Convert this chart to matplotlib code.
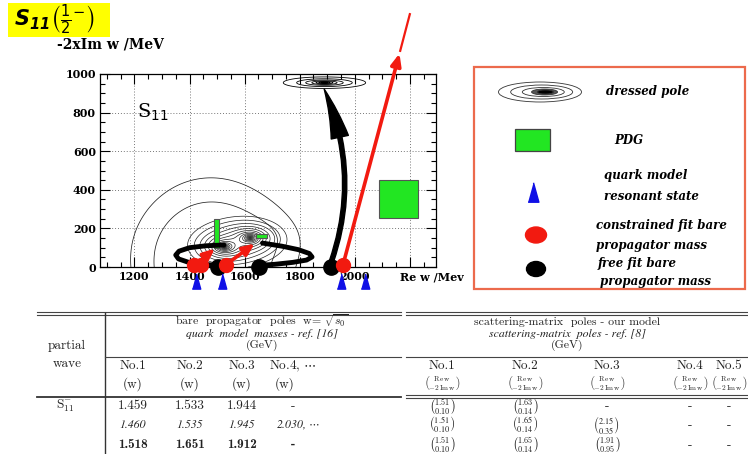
import numpy as np
import matplotlib.pyplot as plt
from matplotlib.patches import Rectangle, Ellipse, FancyArrowPatch

# ---- plot data, Re w and -2 Im w in MeV ----
# dressed poles drawn as contours
pole_re = [1527, 1620]
pole_im = [105, 150]
pole_sy = 0.8
broad_re, broad_sy, broad_mix = 1470, 1.65, 0.15   # wide low-lying background of the two poles
top_re, top_im, top_sy = 1890, 955, 0.2

quark_model = [1422, 1519, 1949, 2039]   # blue triangles
constrained = [1418, 1442, 1533, 1958]   # red dots
free_fit = [1503, 1651, 1915]            # black dots

# PDG boxes
pdg_re = [1490, 1642, 2088]
pdg_im = [97, 148, 252]
pdg_dre = [18, 40, 142]
pdg_dim = [151, 22, 201]

# red moves of constrained bare masses
red_start = [(1425, 15), (1535, 15), (1958, 15)]
red_end = [(1500, 105), (1645, 130), (2165, 1120)]
red_tail = [(2165, 1120), (2200, 1310)]

# black moves of free fit bare masses
loop_left_re = [1503, 1450, 1395, 1360, 1350, 1362, 1400, 1460, 1525]
loop_left_im = [8, 14, 25, 42, 62, 82, 100, 110, 114]
loop_right_re = [1651, 1710, 1775, 1825, 1845, 1835, 1795, 1735, 1665]
loop_right_im = [8, 14, 24, 36, 52, 70, 90, 108, 124]
big_start = (1912, 15)
big_end = (1885, 935)

# ---- table data ----
bare_constrained = [1.459, 1.533, 1.944]
bare_quark = [1.460, 1.535, 1.945, 2.030]
bare_free = [1.518, 1.651, 1.912]
our_re = [1.51, 1.63]
our_im = [0.10, 0.14]
ref_re = [1.51, 1.65, 2.15]
ref_im = [0.10, 0.14, 0.35]
free_re = [1.51, 1.65, 1.91]
free_im = [0.10, 0.14, 0.95]

RED = '#f21a10'
BLUE = '#1010e6'
GREEN = '#22e622'

fig = plt.figure(figsize=(7.48, 4.54), dpi=100)
W, H = 748, 454

ax = fig.add_axes([100 / W, 1 - 267 / H, 336 / W, (267 - 74) / H])
ax.set_xlim(1075, 2295)
ax.set_ylim(0, 1000)

# contours
xg = np.linspace(1075, 2295, 1000)
yg = np.linspace(0, 1000, 1000)
X, Y = np.meshgrid(xg, yg)
P = np.zeros_like(X)
for x0, y0 in zip(pole_re, pole_im):
    P += 1.0 / (np.hypot(X - x0, (Y - y0) / pole_sy) + 8)
B = 1.0 / (np.hypot(X - broad_re, Y / broad_sy) + 1) + broad_mix * P
ax.contour(X, Y, B, levels=[0.00424, 0.0059], colors='#222222', linewidths=0.55)
ax.contour(X, Y, P, levels=np.geomspace(0.0112, 0.1, 15), colors='#222222', linewidths=0.5)
Ft = 1.0 / (np.hypot(X - top_re, (Y - top_im) / top_sy) + 0.5)
ax.contour(X, Y, Ft, levels=np.geomspace(1 / 150, 1 / 3, 11), colors='black', linewidths=0.6)

# PDG boxes
for r, i, dr, di in zip(pdg_re, pdg_im, pdg_dre, pdg_dim):
    ax.add_patch(Rectangle((r, i), dr, di, facecolor=GREEN, edgecolor='#555555', lw=0.8, zorder=3))

# black trajectories
ax.plot(loop_left_re, loop_left_im, color='black', lw=3.5, solid_capstyle='round', zorder=4)
ax.plot(loop_right_re, loop_right_im, color='black', lw=3.5, solid_capstyle='round', zorder=4)
ax.add_patch(FancyArrowPatch(big_start, big_end, connectionstyle='arc3,rad=0.2',
                             arrowstyle='simple,head_length=2.6,head_width=0.9,tail_width=0.22',
                             mutation_scale=14, color='black', zorder=4))

# red trajectories
for s, e in zip(red_start, red_end):
    ax.add_patch(FancyArrowPatch(s, e, arrowstyle='-|>,head_length=0.7,head_width=0.3',
                                 mutation_scale=10, color=RED, lw=2.6, zorder=5, clip_on=False))
ax.plot([p[0] for p in red_tail], [p[1] for p in red_tail], color=RED, lw=1.6,
        clip_on=False, zorder=5)

# markers
ax.plot(free_fit, np.zeros(len(free_fit)), 'o', color='black', ms=11, clip_on=False, zorder=6)
ax.plot(constrained, np.full(len(constrained), 10), 'o', color=RED, ms=10, clip_on=False, zorder=7)
tri = [(-1, -1.8), (1, -1.8), (0, 1.8)]
ax.plot(quark_model, np.full(len(quark_model), -75), linestyle='none', marker=tri, color=BLUE,
        ms=11, clip_on=False, zorder=8)

ax.text(1210, 800, r'S$_{11}$', fontsize=14, family='DejaVu Serif', va='center')

# axes style
tick_font = dict(family='DejaVu Serif', weight='bold', size=8)
ax.set_xticks([1200, 1400, 1600, 1800, 2000, 2200])
ax.set_xticklabels(['1200', '1400', '1600', '1800', '2000', ''], **tick_font)
ax.set_yticks([0, 200, 400, 600, 800, 1000])
ax.set_yticklabels(['0', '200', '400', '600', '800', '1000'], **tick_font)
ax.set_xticks(np.arange(1100, 2300, 50), minor=True)
ax.set_yticks(np.arange(0, 1000, 50), minor=True)
ax.tick_params(which='both', direction='in', top=True, right=True, width=0.8)
ax.tick_params(which='major', length=7, pad=3)
ax.tick_params(which='minor', length=3.5)
ax.grid(True, which='major', linestyle=(0, (1, 2)), color='#777777', lw=0.7)
for sp in ax.spines.values():
    sp.set_linewidth(0.9)

# ---- overlay in pixel coordinates ----
ov = fig.add_axes([0, 0, 1, 1], zorder=10)
ov.set_xlim(0, W)
ov.set_ylim(H, 0)
ov.axis('off')

ov.add_patch(Rectangle((8, 3), 102, 34, facecolor='#ffff00', edgecolor='none'))
ov.text(14, 20, r'$\mathbfit{S}_{\mathbfit{11}}\left(\frac{1}{2}^{-}\right)$', fontsize=15,
        math_fontfamily='dejavusans', va='center', ha='left')

ov.text(57, 45, '-2xIm w /MeV', family='DejaVu Serif', weight='bold', fontsize=10, va='center')
ov.text(400, 277, 'Re w /Mev', family='DejaVu Serif', weight='bold', fontsize=8, va='center')

# legend box
ov.add_patch(Rectangle((474, 67), 271, 222, facecolor='none', edgecolor='#ec6a4c', lw=1.6))
for w, h, c in [(83, 20, 'none'), (62, 14, 'none'), (42, 9, 'none'), (26, 6, '#555555'),
                (16, 4, 'black')]:
    ov.add_patch(Ellipse((540 + (83 - w) * 0.08, 92), w, h, facecolor=c,
                         edgecolor='#333333', lw=0.6))
ov.add_patch(Rectangle((515, 129), 35, 22, facecolor=GREEN, edgecolor='#444444', lw=0.9))
ov.plot([533], [192], linestyle='none', marker=tri, color=BLUE, ms=14)
ov.add_patch(Ellipse((536, 235), 21, 16, color=RED))
ov.add_patch(Ellipse((536, 269), 19, 15, color='black'))
leg_font = dict(family='DejaVu Serif', style='italic', weight='bold', fontsize=8.5, va='center')
ov.text(606, 92, 'dressed pole', **leg_font)
ov.text(614, 141, 'PDG', **leg_font)
ov.text(604, 176, 'quark model', **leg_font)
ov.text(604, 197, 'resonant state', **leg_font)
ov.text(596, 225, 'constrained fit bare', **leg_font)
ov.text(596, 246, 'propagator mass', **leg_font)
ov.text(598, 264, 'free fit bare', **leg_font)
ov.text(600, 282, 'propagator mass', **leg_font)

# ---- table ----
for y in (312, 315):
    ov.plot([37, 401], [y, y], color='#444444', lw=0.8)
    ov.plot([406, 748], [y, y], color='#444444', lw=0.8)
ov.plot([105, 105], [313, 454], color='#333333', lw=1.0)
ov.plot([105, 401], [357, 357], color='#444444', lw=0.8)
ov.plot([406, 748], [357, 357], color='#444444', lw=0.8)
ov.plot([37, 401], [396.5, 396.5], color='#333333', lw=1.3)
for y in (395, 397.5):
    ov.plot([406, 748], [y, y], color='#444444', lw=0.8)

rm = dict(family=['cmr10', 'DejaVu Serif'], math_fontfamily='cm', fontsize=9.5,
          ha='center', va='center', color='#222222')
it = dict(family='STIXGeneral', style='italic', math_fontfamily='stix', fontsize=9.5,
          ha='center', va='center', color='#222222')
bf = dict(rm, family=['cmb10', 'DejaVu Serif'])
hd = dict(rm, fontsize=8.5)
hdi = dict(it, fontsize=8.5)

ov.text(67, 346, 'partial', **rm)
ov.text(67, 364, 'wave', **rm)
ov.text(262, 321, r'bare  propagator  poles  w= $\sqrt{s_0}$', **hd)
ov.text(262, 334, 'quark  model  masses - ref. [16]', **hdi)
ov.text(262, 345, '(GeV)', **hd)
ov.text(567, 322, 'scattering-matrix  poles - our model', **hd)
ov.text(567, 334, 'scattering-matrix  poles - ref. [8]', **hdi)
ov.text(567, 345, '(GeV)', **hd)

bare_x = [133, 190, 242, 293]
for k, x in enumerate(bare_x):
    ov.text(x, 366, f'No.{k + 1}' + (r', $\cdots$' if k == 3 else ''), **rm)
    ov.text(x - (8 if k == 3 else 0), 384, '(w)', **rm)
smat_x = [442, 525, 607, 690, 729]
hdr = r'$\binom{\mathrm{Re\,w}}{-2\,\mathrm{Im\,w}}$'
for k, x in enumerate(smat_x):
    ov.text(x, 366, f'No.{k + 1}', **rm)
    ov.text(x, 383, hdr, **dict(rm, fontsize=7.5))

ov.text(65, 406, r'S$_{11}^{-}$', **rm)
rows_y = [406, 425, 445]
for k, x in enumerate(bare_x):
    ov.text(x, rows_y[0], f'{bare_constrained[k]:.3f}' if k < len(bare_constrained) else '-', **rm)
    txt = f'{bare_quark[k]:.3f}' + (r', $\cdots$' if k == 3 else '')
    ov.text(x + (5 if k == 3 else 0), rows_y[1], txt, **dict(it, fontsize=8.5))
    ov.text(x, rows_y[2], f'{bare_free[k]:.3f}' if k < len(bare_free) else '-', **bf)

for k, x in enumerate(smat_x):
    if k < len(our_re):
        ov.text(x, rows_y[0], r'$\binom{%.2f}{%.2f}$' % (our_re[k], our_im[k]), **dict(rm, fontsize=8.5))
    else:
        ov.text(x, rows_y[0], '-', **rm)
    if k < len(ref_re):
        ov.text(x, rows_y[1], r'$\binom{\mathit{%.2f}}{\mathit{%.2f}}$' % (ref_re[k], ref_im[k]),
                **dict(it, fontsize=8.5))
    else:
        ov.text(x, rows_y[1], '-', **rm)
    if k < len(free_re):
        ov.text(x, rows_y[2], r'$\binom{%.2f}{%.2f}$' % (free_re[k], free_im[k]), **dict(rm, fontsize=8.5))
    else:
        ov.text(x, rows_y[2], '-', **rm)

fig.savefig('out.png', dpi=100)
